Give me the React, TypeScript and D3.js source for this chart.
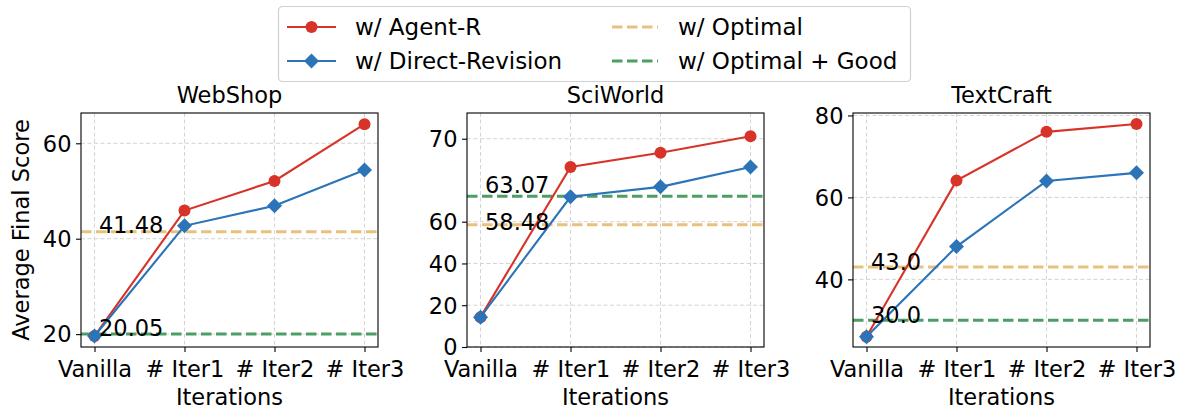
import { useRef, useEffect } from 'react';
import * as d3 from 'd3';

// x categories and panel titles
const iterations = ['Vanilla', '# Iter1', '# Iter2', '# Iter3'];
const taskNames = ['WebShop', 'SciWorld', 'TextCraft'];

// series values per task
const webshopAgentR = [19.6, 45.9, 52.1, 64.0];
const webshopDirect = [19.6, 42.7, 46.9, 54.4];
const sciworldAgentR = [14.3, 66.6, 68.3, 70.3];
const sciworldDirect = [14.3, 63.0, 64.2, 66.6];
const textcraftAgentR = [26.0, 64.1, 76.0, 77.9];
const textcraftDirect = [26.0, 48.0, 64.0, 66.0];

// reference lines
const optimalScores = [41.48, 58.48, 43.0];
const optimalLabels = ['41.48', '58.48', '43.0'];
const optimalGoodScores = [20.05, 63.07, 30.0];
const optimalGoodLabels = ['20.05', '63.07', '30.0'];

// y axes
const yDomains = [[17.3, 66.35], [0, 60, 73.1], [23.5, 80.6]];
const yTicks = [[20, 40, 60], [0, 20, 40, 60, 70], [40, 60, 80]];

const legendLabels = ['w/ Agent-R', 'w/ Direct-Revision', 'w/ Optimal', 'w/ Optimal + Good'];

const RED = '#d83328';
const BLUE = '#2b74b7';
const ORANGE = '#e6c27e';
const GREEN = '#4d9d66';
const FONT = '"DejaVu Sans", sans-serif';
const FS = 22.5;

export default function App() {
  const svgRef = useRef<SVGSVGElement>(null);

  useEffect(() => {
    if (!svgRef.current) return;
    const svg = d3.select(svgRef.current);
    svg.selectAll('*').remove();

    const agentR = [webshopAgentR, sciworldAgentR, textcraftAgentR];
    const direct = [webshopDirect, sciworldDirect, textcraftDirect];

    const panelW = 297;
    const panelH = 234;
    const top = 113;
    const lefts = [81, 467, 853];
    // SciWorld uses a stretched scale above 60
    const rangeFractions = [[0, 1], [0, 0.5355, 1], [0, 1]];

    taskNames.forEach((name, i) => {
      const g = svg.append('g').attr('transform', `translate(${lefts[i]},${top})`);

      const x = d3.scalePoint<string>().domain(iterations).range([0, panelW]).padding(0.15);
      const y = d3.scaleLinear()
        .domain(yDomains[i])
        .range(rangeFractions[i].map((f) => panelH * (1 - f)));

      // grid
      g.selectAll('.vgrid')
        .data(iterations)
        .enter()
        .append('line')
        .attr('x1', (d) => x(d)!)
        .attr('x2', (d) => x(d)!)
        .attr('y1', 0)
        .attr('y2', panelH)
        .attr('stroke', '#d4d4d4')
        .attr('stroke-width', 1)
        .attr('stroke-dasharray', '4,2.5');
      g.selectAll('.hgrid')
        .data(yTicks[i])
        .enter()
        .append('line')
        .attr('x1', 0)
        .attr('x2', panelW)
        .attr('y1', (d) => y(d))
        .attr('y2', (d) => y(d))
        .attr('stroke', '#d4d4d4')
        .attr('stroke-width', 1)
        .attr('stroke-dasharray', '4,2.5');

      // reference lines
      const refs = [
        { v: optimalScores[i], label: optimalLabels[i], color: ORANGE },
        { v: optimalGoodScores[i], label: optimalGoodLabels[i], color: GREEN },
      ];
      refs.forEach((r) => {
        g.append('line')
          .attr('x1', 0)
          .attr('x2', panelW)
          .attr('y1', y(r.v))
          .attr('y2', y(r.v))
          .attr('stroke', r.color)
          .attr('stroke-width', 3)
          .attr('stroke-dasharray', '10.5,4.5');
      });

      // series
      const line = d3.line<number>()
        .x((_, j) => x(iterations[j])!)
        .y((d) => y(d));

      g.append('path')
        .datum(agentR[i])
        .attr('d', line)
        .attr('fill', 'none')
        .attr('stroke', RED)
        .attr('stroke-width', 2.1);
      g.selectAll('.pt-r')
        .data(agentR[i])
        .enter()
        .append('circle')
        .attr('cx', (_, j) => x(iterations[j])!)
        .attr('cy', (d) => y(d))
        .attr('r', 6)
        .attr('fill', RED);

      g.append('path')
        .datum(direct[i])
        .attr('d', line)
        .attr('fill', 'none')
        .attr('stroke', BLUE)
        .attr('stroke-width', 2.1);
      const diamond = 'M0,-7.5L7.5,0L0,7.5L-7.5,0Z';
      g.selectAll('.pt-b')
        .data(direct[i])
        .enter()
        .append('path')
        .attr('d', diamond)
        .attr('transform', (d, j) => `translate(${x(iterations[j])},${y(d)})`)
        .attr('fill', BLUE);

      // reference labels
      refs.forEach((r) => {
        g.append('text')
          .attr('x', x(iterations[0])! + 0.05 * x.step())
          .attr('y', y(r.v + 1.3) + 8)
          .attr('font-size', FS)
          .attr('font-family', FONT)
          .attr('fill', '#000')
          .text(r.label);
      });

      // axes
      const xAxis = g.append('g')
        .attr('transform', `translate(0,${panelH})`)
        .call(d3.axisBottom(x).tickSize(5).tickSizeOuter(0).tickPadding(9.4));
      const yAxis = g.append('g')
        .call(d3.axisLeft(y).tickValues(yTicks[i]).tickFormat(d3.format('d')).tickSize(5).tickSizeOuter(0).tickPadding(4.5));
      [xAxis, yAxis].forEach((ax) => {
        ax.select('.domain').remove();
        ax.attr('font-size', FS).attr('font-family', FONT);
        ax.selectAll('line').attr('stroke', '#000').attr('stroke-width', 1.1);
        ax.selectAll('text').attr('fill', '#000');
      });
      yAxis.selectAll('text').attr('dy', '0.35em');

      // frame
      g.append('rect')
        .attr('width', panelW)
        .attr('height', panelH)
        .attr('fill', 'none')
        .attr('stroke', '#000')
        .attr('stroke-width', 1.1);

      // title and x label
      g.append('text')
        .attr('x', panelW / 2)
        .attr('y', -10)
        .attr('text-anchor', 'middle')
        .attr('font-size', FS)
        .attr('font-family', FONT)
        .text(name);
      g.append('text')
        .attr('x', panelW / 2)
        .attr('y', 292)
        .attr('text-anchor', 'middle')
        .attr('font-size', FS)
        .attr('font-family', FONT)
        .text('Iterations');
    });

    // y label
    svg.append('text')
      .attr('transform', `translate(29,${top + panelH / 2}) rotate(-90)`)
      .attr('text-anchor', 'middle')
      .attr('font-size', FS)
      .attr('font-family', FONT)
      .text('Average Final Score');

    // legend
    const lg = svg.append('g');
    lg.append('rect')
      .attr('x', 278.5)
      .attr('y', 6.5)
      .attr('width', 632)
      .attr('height', 75)
      .attr('rx', 4)
      .attr('fill', '#fff')
      .attr('fill-opacity', 0.8)
      .attr('stroke', '#d0d0d0')
      .attr('stroke-width', 1.2);

    const colX = [287, 612];
    const rowY = [27, 61];
    const items = [
      { label: legendLabels[0], color: RED, kind: 'circle' },
      { label: legendLabels[1], color: BLUE, kind: 'diamond' },
      { label: legendLabels[2], color: ORANGE, kind: 'dash' },
      { label: legendLabels[3], color: GREEN, kind: 'dash' },
    ];
    items.forEach((it, k) => {
      const cx = colX[Math.floor(k / 2)];
      const cy = rowY[k % 2];
      const hw = it.kind === 'dash' ? 46 : 49;
      lg.append('line')
        .attr('x1', cx)
        .attr('x2', cx + hw)
        .attr('y1', cy)
        .attr('y2', cy)
        .attr('stroke', it.color)
        .attr('stroke-width', it.kind === 'dash' ? 3 : 2.1)
        .attr('stroke-dasharray', it.kind === 'dash' ? '10.5,4.5' : null);
      if (it.kind === 'circle') {
        lg.append('circle').attr('cx', cx + hw / 2).attr('cy', cy).attr('r', 6).attr('fill', it.color);
      } else if (it.kind === 'diamond') {
        lg.append('path')
          .attr('d', 'M0,-7.5L7.5,0L0,7.5L-7.5,0Z')
          .attr('transform', `translate(${cx + hw / 2},${cy})`)
          .attr('fill', it.color);
      }
      lg.append('text')
        .attr('x', k < 2 ? 355 : 678)
        .attr('y', cy + 8)
        .attr('font-size', 23)
        .attr('font-family', FONT)
        .attr('fill', '#000')
        .text(it.label);
    });
  }, []);

  return (
    <div style={{ position: 'absolute', left: 0, top: 0 }}>
      <svg ref={svgRef} width={1185} height={410} style={{ display: 'block', background: '#fff' }} />
    </div>
  );
}
